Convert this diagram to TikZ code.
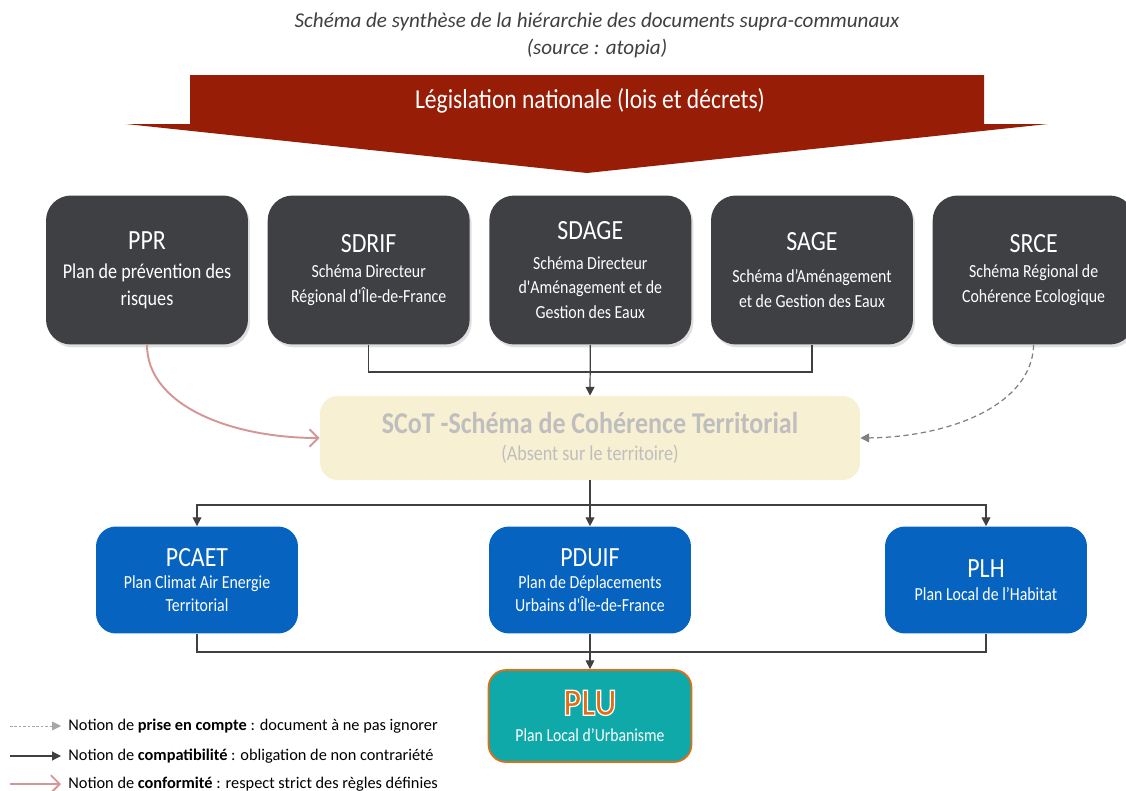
\documentclass[tikz,border=0pt]{standalone}
\usepackage{fontspec}
\setmainfont{Carlito}
\newfontfamily\narrowfont{Carlito}[FakeStretch=0.86]
\usetikzlibrary{arrows.meta,positioning,shadows}

\definecolor{banner}{RGB}{152,29,6}
\definecolor{darkbox}{RGB}{63,64,68}
\definecolor{bluebox}{RGB}{6,99,191}
\definecolor{scotfill}{RGB}{248,240,210}
\definecolor{scottext}{RGB}{190,190,190}
\definecolor{plufill}{RGB}{16,169,170}
\definecolor{pluedge}{RGB}{226,110,20}
\definecolor{linkgray}{RGB}{64,64,64}
\definecolor{dashgray}{RGB}{128,128,128}
\definecolor{conformpink}{RGB}{212,150,150}

% orange letters with a white rim (fill + stroke text mode)
\newcommand{\rimtext}[1]{\special{pdf:literal direct 2 Tr 0.7 w 1 1 1 RG}#1\special{pdf:literal direct 0 Tr}}

\begin{document}
\begin{tikzpicture}[x=0.02cm,y=-0.02cm]
\tikzstyle{doc} = [rectangle, rounded corners=0.5cm, fill=darkbox, text=white,
minimum width=4.04cm, minimum height=2.98cm, align=center,
font=\narrowfont\fontsize{10.5}{14}\selectfont,
drop shadow={opacity=0.25, shadow xshift=0.04cm, shadow yshift=-0.06cm}]
\tikzstyle{plan} = [rectangle, rounded corners=0.4cm, fill=bluebox, text=white,
minimum width=4.04cm, minimum height=2.14cm, align=center,
font=\narrowfont\fontsize{10.5}{13}\selectfont]
\tikzstyle{link} = [draw=linkgray, line width=0.7pt]
\tikzstyle{tip} = [-{Triangle[length=5pt,width=5pt]}]
\tikzstyle{prise} = [draw=dashgray, line width=0.7pt, dash pattern=on 3pt off 2pt,
-{Triangle[length=5pt,width=5pt]}]
\tikzstyle{conform} = [draw=conformpink, line width=1.1pt, -{Straight Barb[length=5pt,width=10pt]}]
\tikzstyle{legend} = [anchor=west, inner sep=0pt, font=\fontsize{9.3}{11}\selectfont]

\useasboundingbox (0,0) rectangle (1126,791);

% title
\node[font=\itshape\fontsize{12}{14}\selectfont, text=black!75] (titre) at (597,22)
  {Schéma de synthèse de la hiérarchie des documents supra-communaux};
\node[font=\itshape\fontsize{12}{14}\selectfont, text=black!75] (source) at (597,48)
  {(source : atopia)};

% national law banner
\fill[banner] (190,75) -- (984,75) -- (984,124) -- (1048,124) -- (587,173)
  -- (126,124) -- (190,124) -- cycle;
\node[text=white, font=\narrowfont\fontsize{15.6}{18}\selectfont] (loi) at (590,101)
  {Législation nationale (lois et décrets)};

% supra-communal documents
\node[doc] (ppr) at (147,270) {{\fontsize{15.8}{18}\selectfont PPR}\\[3pt]
  {\fontsize{12}{15}\selectfont Plan de prévention des}\\[1pt]
  {\fontsize{12}{15}\selectfont risques}};
\node[doc, right=0.38cm of ppr] (sdrif) {{\fontsize{15.8}{18}\selectfont SDRIF}\\
  Schéma Directeur\\ Régional d'Île-de-France};
\node[doc, right=0.38cm of sdrif] (sdage) {{\fontsize{15.8}{18}\selectfont SDAGE}\\[3pt]
  Schéma Directeur\\ d'Aménagement et de\\ Gestion des Eaux};
\node[doc, right=0.38cm of sdage] (sage) {{\fontsize{15.8}{18}\selectfont SAGE}\\[4pt]
  Schéma d’Aménagement\\ et de Gestion des Eaux};
\node[doc, right=0.38cm of sage] (srce) {{\fontsize{15.8}{18}\selectfont SRCE}\\
  Schéma Régional de\\ Cohérence Ecologique};

% SCoT
\node[rectangle, rounded corners=0.35cm, fill=scotfill, text=scottext, align=center,
  minimum width=10.8cm, minimum height=1.68cm, font=\narrowfont\fontsize{12}{15}\selectfont] (scot) at (590,438)
  {{\fontsize{17.2}{19}\selectfont\bfseries SCoT -Schéma de Cohérence Territorial}\\
  (Absent sur le territoire)};

% plans
\node[plan] (pcaet) at (197,580) {{\fontsize{15.8}{18}\selectfont PCAET}\\
  Plan Climat Air Energie\\ Territorial};
\node[plan] (pduif) at (590,580) {{\fontsize{15.8}{18}\selectfont PDUIF}\\
  Plan de Déplacements\\ Urbains d'Île-de-France};
\node[plan] (plh) at (986,580) {{\fontsize{15.8}{18}\selectfont PLH}\\
  Plan Local de l’Habitat};

% PLU
\node[rectangle, rounded corners=0.35cm, fill=plufill, draw=pluedge, line width=1pt,
  text=white, align=center, minimum width=4.06cm, minimum height=1.84cm,
  font=\narrowfont\fontsize{10.4}{14}\selectfont] (plu) at (590,716)
  {{\fontsize{22}{24}\selectfont\bfseries\color{pluedge}\rimtext{PLU}}\\[1pt]
  Plan Local d’Urbanisme};

% links
\coordinate (haut) at (590,372);
\coordinate (milieu) at (590,505);
\coordinate (bas) at (590,652);
\draw[link] (sdrif.south) |- (haut) -| (sage.south);
\draw[link,tip] (sdage.south) -- (scot.north);
\draw[link] (scot.south) -- (milieu);
\draw[link,tip] (milieu) -| (pcaet.north);
\draw[link,tip] (milieu) -| (plh.north);
\draw[link,tip] (milieu) -- (pduif.north);
\draw[link] (pcaet.south) |- (bas) -| (plh.south);
\draw[link,tip] (pduif.south) -- (plu.north);
\draw[conform] (ppr.south) .. controls (147,405) and (230,438) .. (scot.west);
\draw[prise] (srce.south) .. controls (1032,405) and (950,437) .. (scot.east);

% legend
\node[legend] (leg1) at (68,726) {Notion de \textbf{prise en compte} : document à ne pas ignorer};
\node[legend] (leg2) at (68,756) {Notion de \textbf{compatibilité} : obligation de non contrariété};
\node[legend] (leg3) at (68,784) {Notion de \textbf{conformité} : respect strict des règles définies};
\coordinate (l1) at (10,726);
\coordinate (l2) at (10,756);
\coordinate (l3) at (10,784);
\draw[prise, draw=black!35, line width=0.5pt, dash pattern=on 1.5pt off 1pt, shorten >=0.14cm] (l1) -- (leg1.west);
\draw[link, tip, shorten >=0.14cm] (l2) -- (leg2.west);
\draw[conform, shorten >=0.14cm] (l3) -- (leg3.west);
\end{tikzpicture}
\end{document}
